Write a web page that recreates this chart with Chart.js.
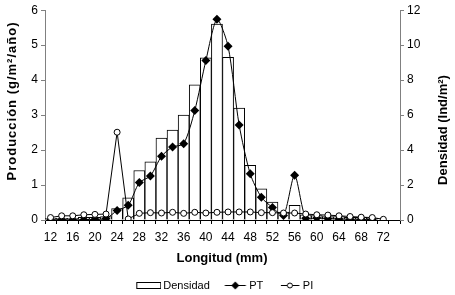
<!DOCTYPE html>
<html><head><meta charset="utf-8">
<script src="https://cdn.jsdelivr.net/npm/chart.js@4"></script>
<style>html,body{margin:0;padding:0;background:#fff;}#wrap{width:455px;height:295px;}</style>
</head><body><div id="wrap"><canvas id="c" width="455" height="295"></canvas></div>
<script>
const categories = [12,14,16,18,20,22,24,26,28,30,32,34,36,38,40,42,44,46,48,50,52,54,56,58,60,62,64,66,68,70,72,74];
const densidad = [0.1,0.1,0.1,0.15,0.15,0.2,0.65,1.27,2.83,3.33,4.68,5.15,6.0,7.73,9.28,11.2,9.3,6.4,3.13,1.78,1.03,0.45,0.84,0.3,0.25,0.2,0.2,0.15,0.15,0.1,null,null];
const pt = [0,0.01,0,0.01,0.02,0.04,0.27,0.42,1.07,1.26,1.82,2.09,2.18,3.13,4.56,5.74,4.97,2.72,1.32,0.65,0.36,0.13,1.28,0.05,0.06,0.04,0.03,0.02,0.02,0.01,null,null];
const pi = [0.07,0.12,0.12,0.15,0.16,0.17,2.51,0.03,0.19,0.21,0.2,0.22,0.19,0.22,0.2,0.22,0.23,0.23,0.23,0.21,0.21,0.2,0.2,0.17,0.15,0.14,0.12,0.1,0.08,0.07,0.02,null];
const leftTicks = [0,1,2,3,4,5,6];
const rightTicks = [0,2,4,6,8,10,12];
const xTitle = 'Longitud (mm)';
const leftTitle = 'Producción (g/m²/año)';
const rightTitle = 'Densidad (Ind/m²)';

const FONT = '"Liberation Sans", Arial, sans-serif';
const AREA_BOTTOM = 220;

function mk(w, h, draw) { const c = document.createElement('canvas'); c.width = w; c.height = h; draw(c.getContext('2d'), w, h); return c; }
// legend glyphs: width 37, visible content right-aligned, left part transparent for spacing
const imgBar = mk(37, 9, (g) => { g.fillStyle = '#fff'; g.fillRect(12.5, 1.5, 24, 6); g.strokeStyle = '#000'; g.lineWidth = 1; g.strokeRect(12.5, 1.5, 24, 6); });
const imgPT = mk(37, 11, (g) => { g.strokeStyle = '#000'; g.lineWidth = 1; g.beginPath(); g.moveTo(14.5, 5.5); g.lineTo(35.5, 5.5); g.stroke(); g.fillStyle = '#000'; g.beginPath(); g.moveTo(25, 1.5); g.lineTo(29, 5.5); g.lineTo(25, 9.5); g.lineTo(21, 5.5); g.closePath(); g.fill(); });
const imgPI = mk(37, 9, (g) => { g.strokeStyle = '#000'; g.lineWidth = 1; g.beginPath(); g.moveTo(17, 4.5); g.lineTo(35.5, 4.5); g.stroke(); g.fillStyle = '#fff'; g.beginPath(); g.arc(26, 4.5, 2.5, 0, Math.PI * 2); g.fill(); g.stroke(); });

const titlesPlugin = {
  id: 'titles',
  afterLayout(chart) {
    const L = chart.legend;
    if (L) { L.top += 11; L.bottom += 11; L.left -= 7; L.right -= 7; }
  },
  afterDraw(chart) {
    const ctx = chart.ctx;
    ctx.save();
    ctx.fillStyle = '#000';
    ctx.font = 'bold 13px ' + FONT;
    ctx.textAlign = 'center';
    ctx.textBaseline = 'middle';
    ctx.fillText(xTitle, 222, 258);
    ctx.save(); ctx.translate(12, 101); ctx.rotate(-Math.PI / 2); try { ctx.letterSpacing = '1px'; } catch (e) {} ctx.fillText(leftTitle, 0, 0); ctx.restore();
    ctx.save(); ctx.translate(443, 130); ctx.rotate(-Math.PI / 2); ctx.fillText(rightTitle, 0, 0); ctx.restore();
    ctx.restore();
  }
};

new Chart(document.getElementById('c'), {
  data: {
    labels: categories,
    datasets: [
      { type: 'bar', label: 'Densidad', data: densidad, yAxisID: 'y2', backgroundColor: '#fff', borderColor: '#000', borderWidth: 1, categoryPercentage: 1, barPercentage: 1, order: 3 },
      { type: 'line', label: 'PT', data: pt, yAxisID: 'y', borderColor: '#000', borderWidth: 1, tension: 0.25, pointStyle: 'rectRot', pointRadius: 4.5, pointBackgroundColor: '#000', pointBorderColor: '#000', pointBorderWidth: 0, fill: false, order: 2 },
      { type: 'line', label: 'PI', data: pi, yAxisID: 'y', borderColor: '#000', borderWidth: 1, tension: 0, pointStyle: 'circle', pointRadius: 3, pointBackgroundColor: '#fff', pointBorderColor: '#000', pointBorderWidth: 1, fill: false, order: 1 }
    ]
  },
  options: {
    responsive: false,
    animation: false,
    devicePixelRatio: 1,
    layout: { padding: { top: 10, bottom: 5, left: 0, right: 0 } },
    plugins: {
      tooltip: { enabled: false },
      legend: {
        position: 'bottom',
        labels: {
          usePointStyle: true,
          pointStyleWidth: 30,
          boxHeight: 9,
          padding: 4,
          color: '#000',
          font: { family: FONT, size: 11 },
          generateLabels: () => [
            { text: 'Densidad', pointStyle: imgBar, datasetIndex: 0, fillStyle: '#fff', strokeStyle: '#000', lineWidth: 0, fontColor: '#000' },
            { text: 'PT', pointStyle: imgPT, datasetIndex: 1, fillStyle: '#000', strokeStyle: '#000', lineWidth: 0, fontColor: '#000' },
            { text: 'PI', pointStyle: imgPI, datasetIndex: 2, fillStyle: '#fff', strokeStyle: '#000', lineWidth: 0, fontColor: '#000' }
          ]
        }
      }
    },
    scales: {
      x: {
        type: 'category',
        offset: true,
        grid: { display: true, drawOnChartArea: false, drawTicks: true, tickLength: 4, color: '#000', offset: true },
        border: { display: true, color: '#000', width: 1 },
        ticks: { autoSkip: false, maxRotation: 0, minRotation: 0, padding: 6, color: '#000', font: { family: FONT, size: 12 },
          callback: (v, i) => (i % 2 === 0 ? String(categories[i]) : '') },
        afterFit: (s) => { const lh = s.chart.legend ? s.chart.legend.height : 0; s.height = 295 - AREA_BOTTOM - lh - 5; }
      },
      y: {
        position: 'left', min: 0, max: 6,
        afterBuildTicks: (s) => { s.ticks = leftTicks.map(v => ({ value: v })); },
        grid: { display: true, drawOnChartArea: false, drawTicks: true, tickLength: 4, color: '#808080' },
        border: { display: true, color: '#808080', width: 1 },
        ticks: { padding: 3, color: '#000', font: { family: FONT, size: 12 } },
        afterFit: (s) => { s.width = 45; }
      },
      y2: {
        position: 'right', min: 0, max: 12,
        afterBuildTicks: (s) => { s.ticks = rightTicks.map(v => ({ value: v })); },
        grid: { display: true, drawOnChartArea: false, drawTicks: true, tickLength: 4, color: '#808080' },
        border: { display: true, color: '#808080', width: 1 },
        ticks: { padding: 3, color: '#000', font: { family: FONT, size: 12 } },
        afterFit: (s) => { s.width = 55; }
      }
    }
  },
  plugins: [titlesPlugin]
});
</script></body></html>
